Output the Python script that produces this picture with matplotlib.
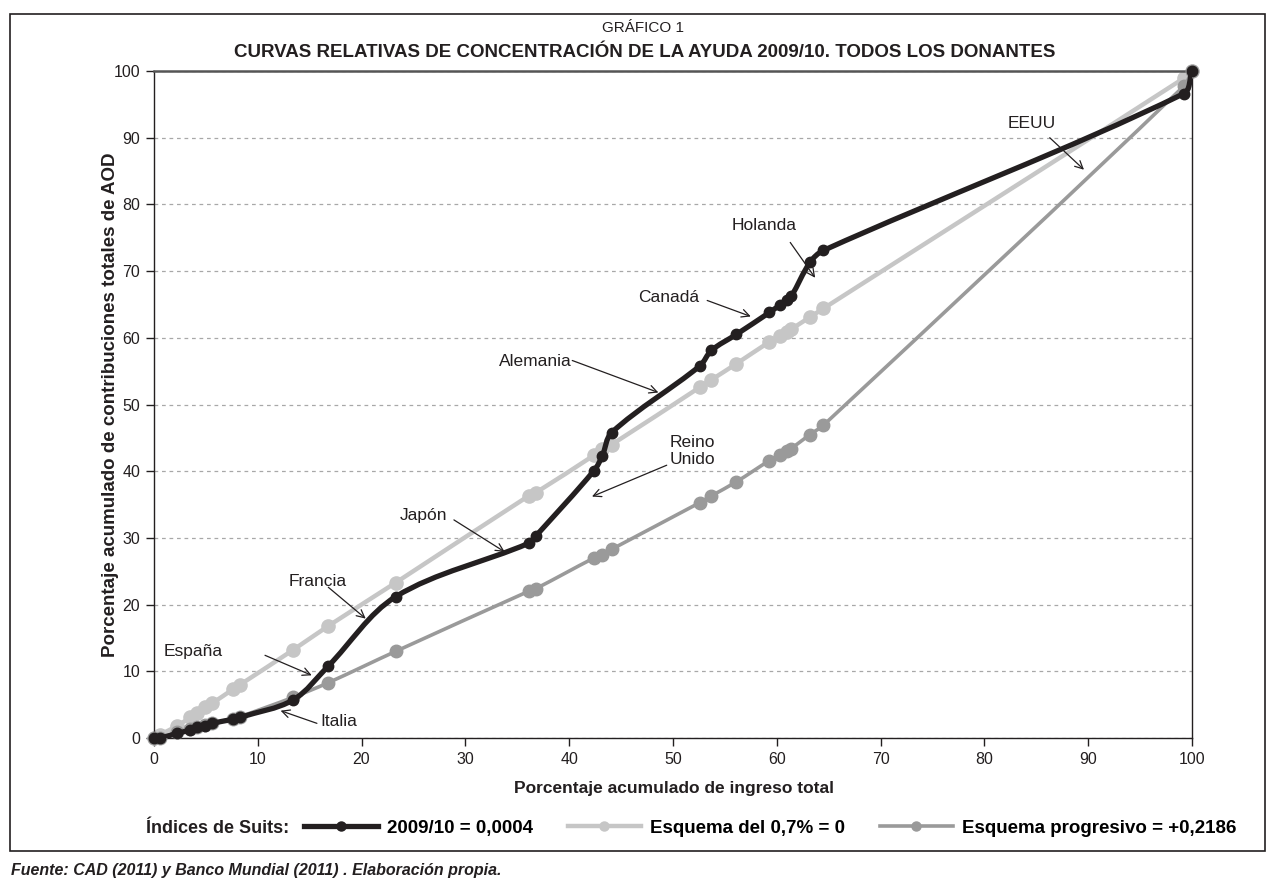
import numpy as np
import matplotlib
matplotlib.use('Agg')
from matplotlib import pyplot as plt
from matplotlib.path import Path
from matplotlib.patches import PathPatch, Rectangle
from matplotlib.lines import Line2D

plt.rcParams['font.family'] = ['Liberation Sans', 'DejaVu Sans']

# cumulative share of total income (x) and cumulative share of ODA (y)
ingreso = [0.0, 0.6, 2.2, 3.5, 4.1, 4.9, 5.6, 7.6, 8.3, 13.4, 16.8, 23.3,
           36.1, 36.8, 42.4, 43.2, 44.1, 52.6, 53.7, 56.1, 59.3, 60.3,
           61.0, 61.4, 63.2, 64.5, 99.2, 100.0]
real_2009 = [0.0, 0.0, 0.7, 1.2, 1.6, 1.8, 2.2, 2.8, 3.1, 5.7, 10.8, 21.2,
             29.2, 30.3, 40.1, 42.3, 45.8, 55.8, 58.1, 60.5, 63.8, 64.9,
             65.6, 66.2, 71.3, 73.1, 96.6, 100.0]
esquema_07 = [0.0, 0.5, 1.8, 3.1, 3.8, 4.6, 5.2, 7.3, 8.0, 13.2, 16.8, 23.3,
              36.3, 36.8, 42.4, 43.3, 44.0, 52.6, 53.7, 56.1, 59.4, 60.3,
              60.9, 61.3, 63.1, 64.4, 98.9, 100.0]
esquema_prog = [0.0, 0.0, 0.9, 1.3, 1.6, 1.9, 2.2, 2.9, 3.2, 6.1, 8.3, 13.0,
                22.0, 22.4, 27.0, 27.5, 28.3, 35.3, 36.3, 38.4, 41.6, 42.4,
                43.0, 43.4, 45.5, 46.9, 97.7, 100.0]

series_labels = ['2009/10 = 0,0004', 'Esquema del 0,7% = 0',
                 'Esquema progresivo = +0,2186']

# (text, text position, arrow start, arrow end) in data units
donantes = [
    ('EEUU', (84.6, 92.2), (86.3, 90.0), (89.6, 85.2)),
    ('Holanda', (58.8, 76.8), (61.3, 74.3), (63.7, 69.0)),
    ('Canadá', (49.6, 66.1), (53.3, 65.6), (57.5, 63.2)),
    ('Alemania', (36.7, 56.5), (40.3, 56.6), (48.6, 51.8)),
    ('Reino\nUnido', (51.9, 43.0), (49.4, 40.9), (42.2, 36.2)),
    ('Japón', (26.0, 33.3), (28.9, 32.7), (33.8, 27.9)),
    ('Francia', (15.8, 23.5), (16.8, 22.6), (20.4, 17.9)),
    ('España', (3.8, 13.0), (10.7, 12.4), (15.2, 9.4)),
    ('Italia', (17.8, 2.5), (15.7, 2.2), (12.2, 4.1)),
]

BLACK = '#231f20'
LIGHT = '#c6c6c6'
DARK = '#9a9a9a'


def smooth_path(ax, xs, ys):
    pts = ax.transData.transform(np.column_stack([xs, ys]))
    n = len(pts)
    verts = [pts[0]]
    codes = [Path.MOVETO]
    for i in range(n - 1):
        p0 = pts[i - 1] if i > 0 else pts[i]
        p1 = pts[i]
        p2 = pts[i + 1]
        p3 = pts[i + 2] if i + 2 < n else pts[i + 1]
        seg = np.hypot(*(p2 - p1))
        t1 = p2 - p0
        t2 = p3 - p1
        t1 = t1 / (np.hypot(*t1) or 1)
        t2 = t2 / (np.hypot(*t2) or 1)
        verts += [p1 + t1 * seg * 0.33, p2 - t2 * seg * 0.33, p2]
        codes += [Path.CURVE4] * 3
    verts = ax.transData.inverted().transform(np.array(verts))
    return Path(verts, codes)


fig = plt.figure(figsize=(12.66, 8.91), dpi=100)
ax = fig.add_axes([0.1216, 0.1717, 0.8199, 0.7486])
ax.set_xlim(0, 100)
ax.set_ylim(0, 100)

styles = [
    (esquema_07, LIGHT, 3.2, 9.5, 2),
    (esquema_prog, DARK, 2.6, 9.0, 3),
    (real_2009, BLACK, 3.8, 7.5, 4),
]
for ys, color, lw, ms, z in styles:
    path = smooth_path(ax, ingreso, ys)
    ax.add_patch(PathPatch(path, fill=False, edgecolor=color, lw=lw,
                           zorder=z, capstyle='round', joinstyle='round'))
    ax.plot(ingreso, ys, 'o', color=color, ms=ms, zorder=z + 0.5,
            clip_on=False)

for text, pos, start, end in donantes:
    ax.text(pos[0], pos[1], text, ha='center', va='center', fontsize=12.5,
            color=BLACK, linespacing=1.15, zorder=6)
    ax.annotate('', xy=end, xytext=start,
                arrowprops=dict(arrowstyle='->', lw=0.9, color=BLACK,
                                shrinkA=0, shrinkB=0, mutation_scale=14),
                zorder=6)

ax.set_xticks(range(0, 101, 10))
ax.set_yticks(range(0, 101, 10))
ax.tick_params(direction='out', length=6, width=1, labelsize=11.5,
               colors=BLACK, pad=4)
ax.grid(axis='y', linestyle=(0, (3, 3)), color='#a8a8a8', lw=0.9)
ax.set_axisbelow(True)
for name, spine in ax.spines.items():
    spine.set_color(BLACK if name in ('left', 'bottom', 'right') else '#555555')
    spine.set_linewidth(1.0 if name != 'top' else 1.8)

fig.text(0.508, 0.9686, 'GRÁFICO 1', ha='center', va='center',
         fontsize=11, color=BLACK)
fig.text(0.509, 0.9416,
         'CURVAS RELATIVAS DE CONCENTRACIÓN DE LA AYUDA 2009/10. TODOS LOS DONANTES',
         ha='center', va='center', fontsize=13.5, weight='bold', color=BLACK)
fig.text(0.087, 0.546,
         'Porcentaje acumulado de contribuciones totales de AOD',
         rotation=90, ha='center', va='center', fontsize=13.5, weight='bold',
         color=BLACK)
fig.text(0.532, 0.1145, 'Porcentaje acumulado de ingreso total',
         ha='center', va='center', fontsize=12.5, weight='bold', color=BLACK)

fig.text(0.1153, 0.0707, 'Índices de Suits:', ha='left', va='center',
         fontsize=13, weight='bold', color=BLACK)
handles = [
    Line2D([], [], color=BLACK, lw=3.8, marker='o', ms=6.5),
    Line2D([], [], color=LIGHT, lw=3.2, marker='o', ms=6.5),
    Line2D([], [], color=DARK, lw=2.6, marker='o', ms=6.5),
]
fig.legend(handles, series_labels, loc='center left',
           bbox_to_anchor=(0.2405, 0.0707), ncol=3, frameon=False,
           borderaxespad=0, borderpad=0,
           handlelength=3.9, handletextpad=0.5, columnspacing=1.85,
           numpoints=1, prop={'weight': 'bold', 'size': 13.5})

fig.text(0.009, 0.0225,
         'Fuente: CAD (2011) y Banco Mundial (2011) . Elaboración propia.',
         ha='left', va='center', fontsize=11.5, weight='bold', style='italic',
         color=BLACK)

fig.add_artist(Rectangle((0.008, 0.045), 0.991, 0.939,
                         transform=fig.transFigure, fill=False,
                         edgecolor=BLACK, lw=1.2))

fig.savefig('out.png', dpi=100)
